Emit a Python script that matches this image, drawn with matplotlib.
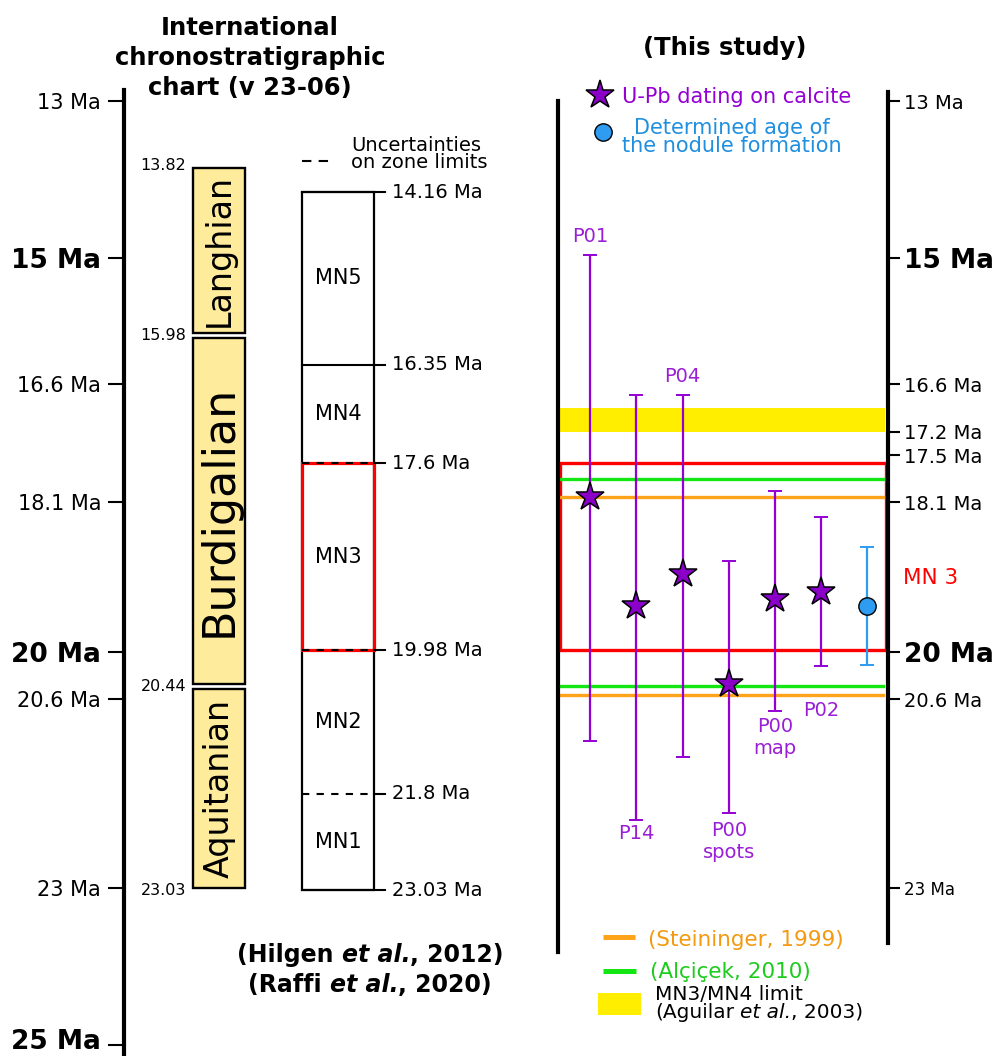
import matplotlib.pyplot as plt
import numpy as np
from matplotlib.patches import Rectangle

W, H = 1001, 1056
PX_PER_MA = 78.7
MA_TOP = 13 - 101 / PX_PER_MA
MA_BOTTOM = 13 + (H - 101) / PX_PER_MA

# age axes
left_ticks = [13, 15, 16.6, 18.1, 20, 20.6, 23, 25]
right_ticks = [13, 15, 16.6, 17.2, 17.5, 18.1, 20, 20.6, 23]
bold_ticks = [15, 20, 25]

# stages (ICS chart v 23-06)
stages = ["Langhian", "Burdigalian", "Aquitanian"]
stage_top = [13.82, 15.98, 20.44]
stage_base = [15.98, 20.44, 23.03]

# mammal Neogene zones
mn_zones = ["MN5", "MN4", "MN3", "MN2", "MN1"]
mn_limits = [14.16, 16.35, 17.6, 19.98, 21.8, 23.03]
mn_uncertain = [False, False, True, True, True, False]

# U-Pb dating on calcite (this study)
samples = ["P01", "P14", "P04", "P00\nspots", "P00\nmap", "P02"]
ages = [18.03, 19.42, 19.01, 20.41, 19.33, 19.24]
err_young = [3.07, 2.68, 2.27, 1.56, 1.38, 0.96]
err_old = [3.10, 2.71, 2.33, 1.64, 1.42, 0.94]

nodule_age = 19.42
nodule_err = 0.75

# MN3 limits from other works
steininger = [18.03, 20.55]
alcicek = [17.8, 20.43]
aguilar_limit = [16.9, 17.2]

PURPLE = "#9400D3"
PURPLE_TXT = "#9A1ED6"
BLUE = "#2E9CF0"
BLUE_TXT = "#1F8FE0"
ORANGE = "#FFA31A"
GREEN = "#14E614"
RED = "#FF0000"
STAGE_FILL = "#FFEB9C"


def rich_text(axis, x, y, parts, size, weight="normal", color="black"):
    """Write (text, style, space before) pieces one after the other."""
    t = axis.text(x, y, parts[0][0], fontsize=size, fontweight=weight,
                  fontstyle=parts[0][1], color=color, ha="left", va="center")
    for s, style, gap in parts[1:]:
        t = axis.annotate(s, xy=(1, 0), xycoords=t, xytext=(gap, 0),
                          textcoords="offset points", ha="left", va="bottom",
                          fontsize=size, fontweight=weight, fontstyle=style,
                          color=color)
    return t


def main():
    fig = plt.figure(figsize=(W / 100, H / 100), dpi=100)

    # left chart: x in pixels, y in Ma
    ax = fig.add_axes([0, 0, 1, 1])
    ax.set_xlim(0, W)
    ax.set_ylim(MA_BOTTOM, MA_TOP)
    ax.patch.set_visible(False)
    for side in ["top", "right", "bottom"]:
        ax.spines[side].set_visible(False)
    ax.spines["left"].set_position(("data", 124))
    ax.spines["left"].set_bounds(12.86, MA_BOTTOM)
    ax.spines["left"].set_linewidth(3)
    ax.set_xticks([])
    # the last label sits on the lower edge, it is written by hand below
    ax.set_yticks(left_ticks,
                  [f"{t:g} Ma" if t != left_ticks[-1] else ""
                   for t in left_ticks])
    ax.tick_params(axis="y", length=11.5, width=1.5, pad=5)
    for lbl, t in zip(ax.get_yticklabels(), left_ticks):
        if t in bold_ticks:
            lbl.set_fontsize(19)
            lbl.set_fontweight("bold")
        else:
            lbl.set_fontsize(15)
    ax.text(101, left_ticks[-1] + 0.05, f"{left_ticks[-1]:g} Ma", ha="right",
            va="baseline", fontsize=19, fontweight="bold")

    # stages
    stage_sizes = [24, 32, 24]
    for name, top, base, fs in zip(stages, stage_top, stage_base, stage_sizes):
        ax.add_patch(Rectangle((193, top + 0.03), 52, base - top - 0.06,
                               facecolor=STAGE_FILL, edgecolor="black", lw=1.7))
        ax.text(219, (top + base) / 2, name, rotation=90, ha="center",
                va="center", fontsize=fs)
    for b in stage_top + [stage_base[-1]]:
        ax.text(186, b, f"{b:.2f}", ha="right", va="center", fontsize=11.5)

    # MN zones
    ax.add_patch(Rectangle((302, mn_limits[0]), 72,
                           mn_limits[-1] - mn_limits[0],
                           fill=False, edgecolor="black", lw=1.6))
    i3 = mn_zones.index("MN3")
    ax.add_patch(Rectangle((302, mn_limits[i3]), 72,
                           mn_limits[i3 + 1] - mn_limits[i3],
                           fill=False, edgecolor=RED, lw=2.3, zorder=3))
    for lim, unc in zip(mn_limits, mn_uncertain):
        if unc:
            ax.plot([302, 374], [lim, lim], color="black", lw=1.5,
                    ls=(0, (3.5, 3.5)), zorder=4)
            ax.plot([374, 385], [lim, lim], color="black", lw=1.5, zorder=4)
        else:
            ax.plot([302, 385], [lim, lim], color="black", lw=1.5, zorder=4)
        ax.text(392, lim, f"{lim:g} Ma", ha="left", va="center", fontsize=14)
    for name, a, b in zip(mn_zones, mn_limits[:-1], mn_limits[1:]):
        ax.text(338, (a + b) / 2, name, ha="center", va="center", fontsize=15)

    # right panel: x is the sample index, y in Ma
    axp = fig.add_axes([558 / W, 0, 330 / W, 1])
    axp.set_xlim(-0.7, 6.45)
    axp.set_ylim(MA_BOTTOM, MA_TOP)
    axp.patch.set_visible(False)
    axp.spines["top"].set_visible(False)
    axp.spines["bottom"].set_visible(False)
    axp.spines["left"].set_bounds(13.0, 23.81)
    axp.spines["right"].set_bounds(12.886, 23.70)
    axp.spines["left"].set_linewidth(3)
    axp.spines["right"].set_linewidth(3)
    axp.set_xticks([])
    axp.yaxis.tick_right()
    axp.set_yticks(right_ticks, [f"{t:g} Ma" for t in right_ticks])
    axp.tick_params(axis="y", length=8.6, width=1.5, pad=3)
    for lbl, t in zip(axp.get_yticklabels(), right_ticks):
        if t in bold_ticks:
            lbl.set_fontsize(19)
            lbl.set_fontweight("bold")
        elif t == 23:
            lbl.set_fontsize(12)
        else:
            lbl.set_fontsize(14)

    axp.axhspan(aguilar_limit[0], aguilar_limit[1], xmin=0.006, xmax=0.99,
                color="#FFEE00", lw=0, zorder=1)
    axp.axhspan(mn_limits[i3], mn_limits[i3 + 1], xmin=0.007, xmax=0.993,
                fill=False, edgecolor=RED, lw=2.4, zorder=2)
    for v in alcicek:
        axp.axhline(v, xmin=0.01, xmax=0.985, color=GREEN, lw=2.4, zorder=2)
    for v in steininger:
        axp.axhline(v, xmin=0.01, xmax=0.985, color=ORANGE, lw=2.4, zorder=2)

    x = np.arange(len(samples))
    axp.errorbar(x, ages, yerr=[err_young, err_old], fmt="none",
                 ecolor=PURPLE, elinewidth=1.6, capsize=5, capthick=1.4,
                 zorder=3)
    axp.plot(x, ages, ls="none", marker="*", ms=21, mfc="#8A00C8",
             mec="black", mew=1.1, zorder=5)

    xn = len(samples)
    axp.errorbar([xn], [nodule_age], yerr=[[nodule_err], [nodule_err]],
                 fmt="none", ecolor=BLUE, elinewidth=1.6, capsize=5,
                 capthick=1.4, zorder=3)
    axp.plot([xn], [nodule_age], ls="none", marker="o", ms=12.5,
             mfc=BLUE, mec="black", mew=1.0, zorder=5)

    label_side = ["top", "bottom", "top", "bottom", "bottom", "bottom"]
    label_gap = [0.12, 0.06, 0.12, 0.1, 0.08, 0.45]
    for i, name in enumerate(samples):
        if label_side[i] == "top":
            y, va = ages[i] - err_young[i] - label_gap[i], "bottom"
        else:
            y, va = ages[i] + err_old[i] + label_gap[i], "top"
        axp.text(x[i], y, name, ha="center", va=va, fontsize=14,
                 color=PURPLE_TXT)

    # titles, legends (pixel coordinates)
    lay = fig.add_axes([0, 0, 1, 1])
    lay.set_xlim(0, W)
    lay.set_ylim(H, 0)
    lay.axis("off")
    lay.patch.set_visible(False)

    lay.text(250, 58, "International\nchronostratigraphic\nchart (v 23-06)",
             ha="center", va="center", fontsize=17.5, fontweight="bold",
             linespacing=1.32)
    lay.text(725, 48, "(This study)", ha="center", va="center",
             fontsize=17.5, fontweight="bold")

    lay.plot([302, 332], [161, 161], color="black", lw=1.5,
             ls=(0, (4.5, 3.5)))
    lay.text(351, 154, "Uncertainties\non zone limits", ha="left",
             va="center", fontsize=14, linespacing=0.85)

    rich_text(lay, 237, 955, [("(Hilgen", "normal", 0),
                              ("et al.", "italic", 5.9),
                              (", 2012)", "normal", 0)], 17, "bold")
    rich_text(lay, 248, 985, [("(Raffi", "normal", 0),
                              ("et al.", "italic", 5.9),
                              (", 2020)", "normal", 0)], 17, "bold")

    lay.plot([600], [95], ls="none", marker="*", ms=21, mfc="#8A00C8",
             mec="black", mew=1.1)
    lay.text(622, 97, "U-Pb dating on calcite", ha="left", va="center",
             fontsize=15, color=PURPLE)
    lay.plot([603], [132], ls="none", marker="o", ms=12.5, mfc=BLUE,
             mec="black", mew=1.0)
    lay.text(732, 137, "Determined age of\nthe nodule formation",
             ha="center", va="center", fontsize=15, color=BLUE_TXT,
             linespacing=0.9)

    lay.text(903, 578, "MN 3", ha="left", va="center", fontsize=15.5,
             color=RED)

    lay.plot([603, 635], [937, 937], color=ORANGE, lw=3.6,
             solid_capstyle="butt")
    lay.text(648, 940, "(Steininger, 1999)", ha="left", va="center",
             fontsize=15.5, color="#F39A10")
    lay.plot([603, 636], [971, 971], color=GREEN, lw=3.6,
             solid_capstyle="butt")
    lay.text(650, 972, "(Alçiçek, 2010)", ha="left", va="center",
             fontsize=15.5, color="#1DCB1D")
    lay.add_patch(Rectangle((598, 993), 43, 22, color="#FFEE00", lw=0))
    lay.text(655, 995, "MN3/MN4 limit", ha="left", va="center",
             fontsize=14.5)
    rich_text(lay, 655, 1012, [("(Aguilar", "normal", 0),
                               ("et al.", "italic", 4.6),
                               (", 2003)", "normal", 0)], 14.5)

    fig.savefig("out.png", dpi=100)


if __name__ == "__main__":
    main()
